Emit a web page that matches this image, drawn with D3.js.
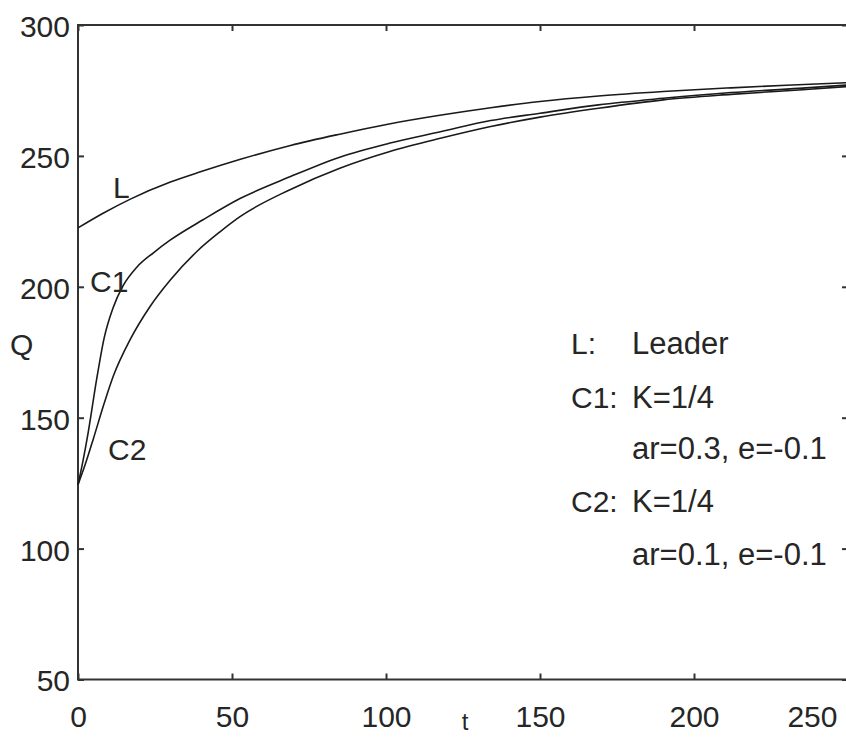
<!DOCTYPE html>
<html>
<head>
<meta charset="utf-8">
<script src="https://cdn.jsdelivr.net/npm/d3@7/dist/d3.min.js"></script>
<style>
  html, body { margin: 0; padding: 0; background: #fff; overflow: hidden; }
  svg { display: block; }
  text { font-family: "Liberation Sans", Arial, sans-serif; fill: #262626; }
</style>
</head>
<body>
<svg id="chart" width="846" height="737"></svg>
<script>
// ---- data ----
const xTicks = [0, 50, 100, 150, 200, 250];
const yTicks = [50, 100, 150, 200, 250, 300];

const tL = [0, 8, 17, 30, 40, 53, 69, 85, 101, 118, 134, 150, 169, 190, 212, 230, 250];
const qL = [222.5, 228, 233.5, 240, 244, 248.8, 254, 258.3, 262.2, 265.6, 268.4, 270.8, 272.9, 274.6, 276, 277, 278];

const tC1 = [0, 1.7, 3.3, 6.1, 8.5, 11.4, 14.7, 19.1, 24.5, 29.9, 40.6, 52.6, 69, 85, 101, 118, 134, 150, 169, 190, 212, 234, 250];
const qC1 = [124.4, 134, 144.3, 165, 180.5, 192, 200.5, 207.5, 213, 217.8, 225.6, 233.7, 242.1, 249.5, 254.8, 259.3, 263.5, 266.3, 269.5, 272, 274.2, 275.8, 277.1];

const tC2 = [0, 2.3, 5, 8.5, 11.5, 17, 23.4, 29.9, 38.6, 46.1, 52.6, 69, 85, 101, 118, 134, 150, 169, 190, 212, 234, 250];
const qC2 = [124.4, 132, 142, 155.5, 166, 180, 192.5, 202.5, 213.5, 221, 226.8, 237.2, 245.3, 251.6, 256.8, 261.2, 264.8, 268.2, 271.4, 273.5, 275.2, 276.5];

const curveLabels = ["L", "C1", "C2"];
const legendKeys = ["L:", "C1:", "", "C2:", ""];
const legendTexts = ["Leader", "K=1/4", "ar=0.3, e=-0.1", "K=1/4", "ar=0.1, e=-0.1"];
const xLabel = "t";
const yLabel = "Q";

// ---- layout ----
const pLeft = 78, pTop = 25, pRight = 848, pBottom = 679.5;
const svg = d3.select("#chart");
const x = d3.scaleLinear().domain([0, 250]).range([pLeft, pRight]);
const y = d3.scaleLinear().domain([50, 300]).range([pBottom, pTop]);

const axisColor = "#333";
const fontSize = 30;
const textColor = "#262626";

// frame
svg.append("rect")
  .attr("x", pLeft).attr("y", pTop)
  .attr("width", pRight - pLeft).attr("height", pBottom - pTop)
  .attr("fill", "none").attr("stroke", axisColor).attr("stroke-width", 2);

function styleAxis(g) {
  g.select(".domain").remove();
  g.selectAll(".tick line").attr("stroke", axisColor).attr("stroke-width", 2);
  g.selectAll(".tick text")
    .attr("font-size", fontSize)
    .attr("font-family", '"Liberation Sans", Arial, sans-serif')
    .attr("fill", textColor);
}

// bottom axis
const gx = svg.append("g").attr("transform", `translate(0,${pBottom})`)
  .call(d3.axisBottom(x).tickValues(xTicks).tickSizeInner(-6).tickSizeOuter(0).tickPadding(26));
styleAxis(gx);
gx.selectAll(".tick text").attr("dy", "0.71em");
gx.selectAll(".tick text").filter(d => d === 250).attr("text-anchor", "end").attr("dx", -11);

// top axis (ticks only)
const gt = svg.append("g").attr("transform", `translate(0,${pTop})`)
  .call(d3.axisTop(x).tickValues(xTicks).tickSizeInner(-6).tickSizeOuter(0).tickFormat(""));
styleAxis(gt);

// left axis
const gy = svg.append("g").attr("transform", `translate(${pLeft},0)`)
  .call(d3.axisLeft(y).tickValues(yTicks).tickSizeInner(-6).tickSizeOuter(0).tickPadding(8));
styleAxis(gy);
gy.selectAll(".tick text").attr("dy", "0.38em");

// right axis (ticks only)
const gr = svg.append("g").attr("transform", `translate(${pRight},0)`)
  .call(d3.axisRight(y).tickValues(yTicks).tickSizeInner(-6).tickSizeOuter(0).tickFormat(""));
styleAxis(gr);

// curves
const line = d3.line().x(d => x(d[0])).y(d => y(d[1])).curve(d3.curveMonotoneX);
const series = [d3.zip(tL, qL), d3.zip(tC1, qC1), d3.zip(tC2, qC2)];
svg.append("g").selectAll("path").data(series).join("path")
  .attr("d", line)
  .attr("fill", "none")
  .attr("stroke", "#1a1a1a")
  .attr("stroke-width", 1.6);

// curve labels
const labelPos = [[113, 198], [90, 292], [108, 460]];
svg.append("g").selectAll("text").data(curveLabels).join("text")
  .attr("x", (d, i) => labelPos[i][0])
  .attr("y", (d, i) => labelPos[i][1])
  .attr("font-size", fontSize)
  .text(d => d);

// legend text
const legendY = [354, 408, 459, 512, 565];
const lg = svg.append("g");
lg.selectAll("text.key").data(legendKeys).join("text")
  .attr("class", "key")
  .attr("x", 571).attr("y", (d, i) => legendY[i])
  .attr("font-size", fontSize)
  .text(d => d);
lg.selectAll("text.val").data(legendTexts).join("text")
  .attr("class", "val")
  .attr("x", 632).attr("y", (d, i) => legendY[i])
  .attr("font-size", 31)
  .text(d => d);

// axis titles
svg.append("text").attr("x", 465).attr("y", 730).attr("text-anchor", "middle")
  .attr("font-size", 24).text(xLabel);
svg.append("text").attr("x", 10).attr("y", 355)
  .attr("font-size", fontSize).text(yLabel);
</script>
</body>
</html>
